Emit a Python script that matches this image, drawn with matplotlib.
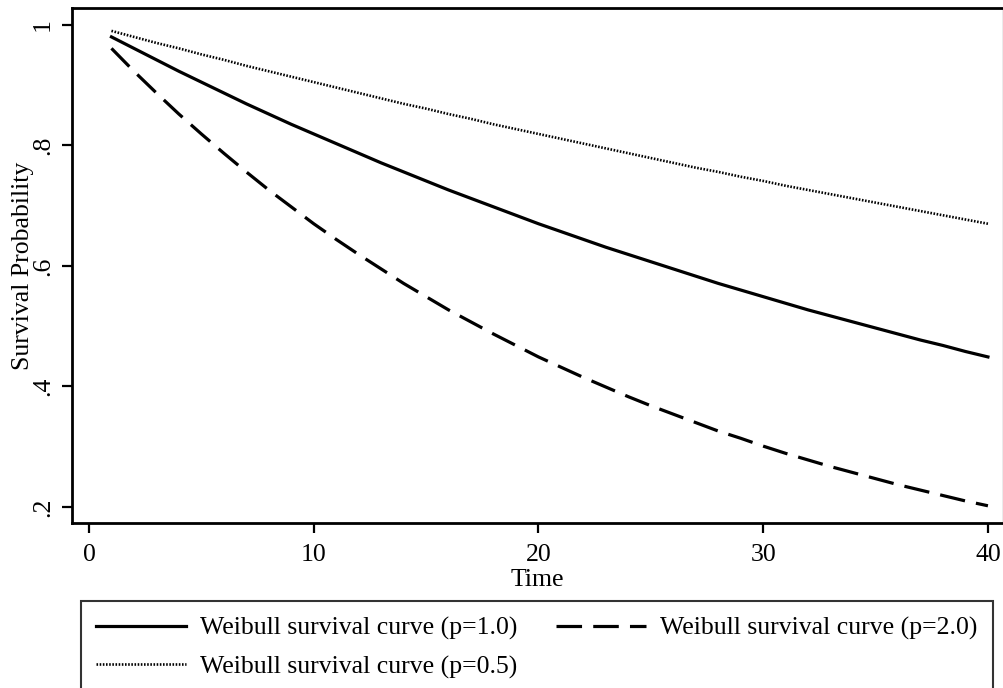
import matplotlib
matplotlib.use("Agg")
import matplotlib.pyplot as plt

# survival probabilities read at t = 1..40
time = list(range(1, 41))

surv_p10 = [0.980, 0.961, 0.942, 0.923, 0.905, 0.887, 0.869, 0.852, 0.835, 0.819,
            0.803, 0.787, 0.771, 0.756, 0.741, 0.726, 0.712, 0.698, 0.684, 0.670,
            0.657, 0.644, 0.631, 0.619, 0.607, 0.595, 0.583, 0.571, 0.560, 0.549,
            0.538, 0.527, 0.517, 0.507, 0.497, 0.487, 0.477, 0.468, 0.458, 0.449]

surv_p20 = [0.961, 0.923, 0.887, 0.852, 0.819, 0.787, 0.756, 0.726, 0.698, 0.670,
            0.644, 0.619, 0.595, 0.571, 0.549, 0.527, 0.507, 0.487, 0.468, 0.449,
            0.432, 0.415, 0.399, 0.383, 0.368, 0.354, 0.340, 0.326, 0.314, 0.301,
            0.289, 0.278, 0.267, 0.257, 0.247, 0.237, 0.228, 0.219, 0.210, 0.202]

surv_p05 = [0.990, 0.980, 0.970, 0.961, 0.951, 0.942, 0.932, 0.923, 0.914, 0.905,
            0.896, 0.887, 0.878, 0.869, 0.861, 0.852, 0.844, 0.835, 0.827, 0.819,
            0.811, 0.803, 0.795, 0.787, 0.779, 0.771, 0.763, 0.756, 0.748, 0.741,
            0.733, 0.726, 0.719, 0.712, 0.705, 0.698, 0.691, 0.684, 0.677, 0.670]

labels = ["Weibull survival curve (p=1.0)",
          "Weibull survival curve (p=2.0)",
          "Weibull survival curve (p=0.5)"]

x_ticks = [0, 10, 20, 30, 40]
y_ticks = [0.2, 0.4, 0.6, 0.8, 1.0]
y_ticklabels = [".2", ".4", ".6", ".8", "1"]

plt.rcParams['font.family'] = ['Liberation Serif', 'DejaVu Serif']
plt.rcParams['font.size'] = 18.5

fig = plt.figure(figsize=(10.04, 6.88), dpi=100)
ax = fig.add_axes([0.0717, 0.2398, 0.9273, 0.7486])

l1, = ax.plot(time, surv_p10, color='black', lw=2.3, label=labels[0])
l2, = ax.plot(time, surv_p20, color='black', lw=2.3, dashes=(8, 3.5), label=labels[1])
l3, = ax.plot(time, surv_p05, color='black', lw=1.9, dashes=(0.6, 0.6), label=labels[2])

ax.set_xlim(-0.756, 40.67)
ax.set_ylim(0.1734, 1.028)
ax.set_xticks(x_ticks)
ax.set_yticks(y_ticks)
ax.set_yticklabels(y_ticklabels, rotation=90, va='center')
ax.tick_params(axis='both', direction='out', length=7, width=1.6, color='black')
ax.tick_params(axis='x', pad=8)
ax.tick_params(axis='y', pad=6)

for side in ['left', 'bottom', 'top']:
    ax.spines[side].set_linewidth(2)
    ax.spines[side].set_color('black')
ax.spines['right'].set_linewidth(1)
ax.spines['right'].set_color('#999999')

ax.set_xlabel("Time", labelpad=2)
ax.set_ylabel("Survival Probability")
ax.yaxis.set_label_coords(-0.041, 0.5)

# two columns filled row by row: (p=1.0, p=2.0) then (p=0.5)
leg = fig.legend(handles=[l1, l3, l2], loc='upper left', ncol=2, mode='expand',
                 bbox_to_anchor=(81 / 1004, 1 - 608 / 688, 912 / 1004, 0.01),
                 borderaxespad=0, frameon=True, fancybox=False, edgecolor='black',
                 handlelength=3.5, handletextpad=0.55, labelspacing=0.6,
                 borderpad=0.6, columnspacing=1.5)
leg.get_frame().set_linewidth(1.5)

fig.savefig("out.png", dpi=100)
